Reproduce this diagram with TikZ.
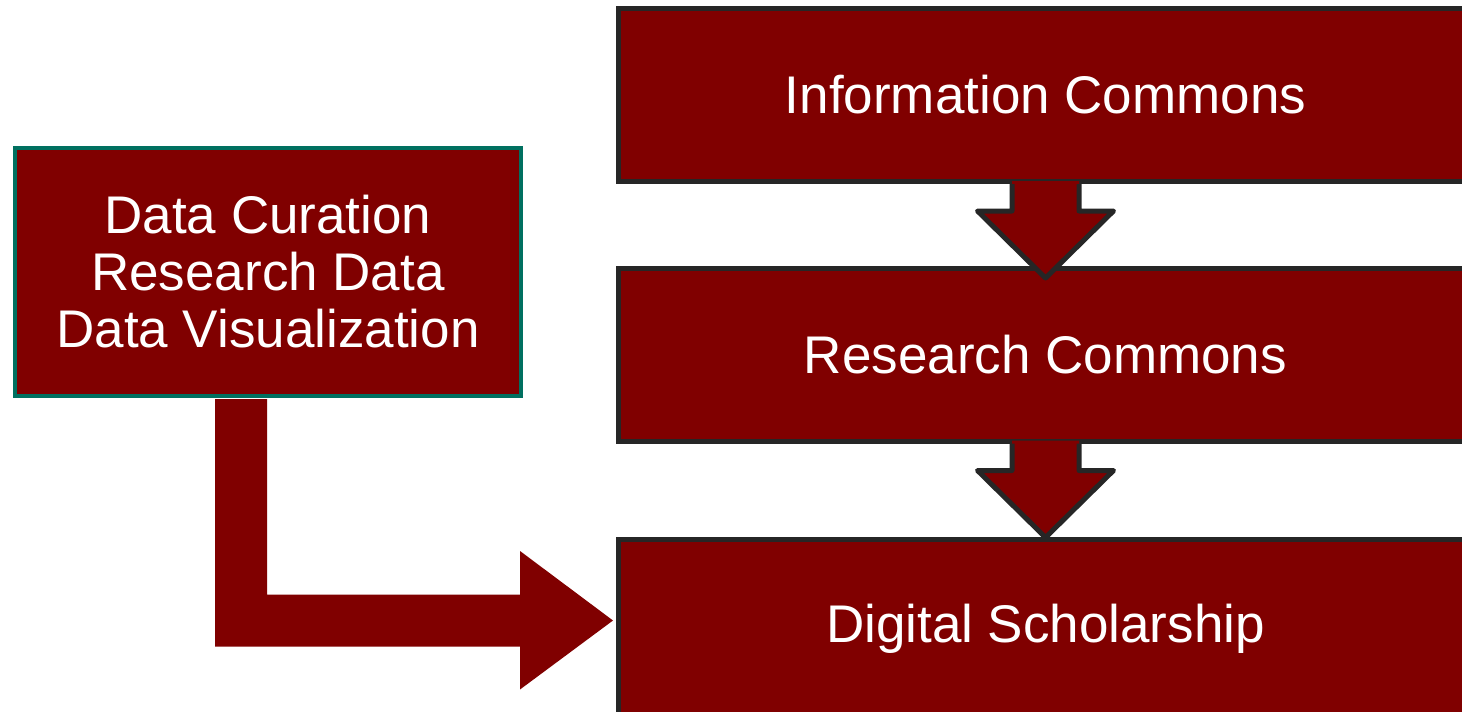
\documentclass[tikz,border=0pt]{standalone}
\usepackage{fontspec}
\setmainfont{Liberation Sans}
\usepackage{tikz}
\usetikzlibrary{calc}
\definecolor{bordeaux}{RGB}{128,0,0}
\definecolor{sombre}{RGB}{38,38,38}
\definecolor{sarcelle}{RGB}{0,112,96}

\begin{document}
\begin{tikzpicture}[x=1pt,y=-1pt,
    bloc/.style={draw=sombre, fill=bordeaux, line width=5pt, minimum width=854pt, minimum height=173pt, text=white, font=\fontsize{53}{57}\selectfont},
    blocvert/.style={draw=sarcelle, fill=bordeaux, line width=4pt, minimum width=506pt, minimum height=248pt, text=white, align=center, font=\fontsize{53}{57}\selectfont},
    fleche/.style={draw=sombre, line width=5pt, line join=round}]
% cadre de l'image
\useasboundingbox (0,0) rectangle (1462,712);
\clip (0,0) rectangle (1462,712);
% les blocs
\node[bloc] (info) at (1045.5,95) {Information Commons};
\node[bloc] (research) at (1045.5,354.5) {Research Commons};
\node[bloc, minimum height=180pt] (digital) at (1045.5,629) {Digital Scholarship};
\node[blocvert] (data) at (268,272) {Data Curation\\Research Data\\Data Visualization};
% fleches vers le bas
\foreach \a/\b in {info/research, research/digital}{
    \fill[bordeaux] ($(\a.south)+(-33.5,-3)$) -- ++(0,30) -- ++(-34.5,0) -- ($(\a.south)+(0,94)$) -- ($(\a.south)+(68,27)$) -- ++(-34.5,0) -- ++(0,-30) -- cycle;
    \draw[fleche] ($(\a.south)+(-33.5,0)$) -- ++(0,27) -- ++(-34.5,0) -- ($(\a.south)+(0,94)$) -- ($(\a.south)+(68,27)$) -- ++(-34.5,0) -- ++(0,-27);
}
% fleche coudee
\coordinate (coude) at ($(data.south)+(-27,1)$);
\coordinate (pointe) at ($(digital.west)+(-3,-8.5)$);
\fill[bordeaux] ($(coude)+(-26,0)$) |- ($(pointe)+(-93,26)$) -- ++(0,43) -- (pointe) -- ++(-93,-69.5) -- ++(0,43.5) -| ($(coude)+(26,0)$) -- cycle;
\end{tikzpicture}
\end{document}
